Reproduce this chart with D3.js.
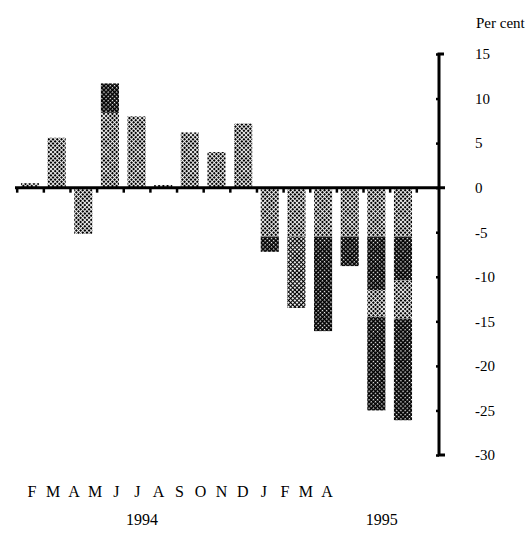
<!DOCTYPE html>
<html>
<head>
<meta charset="utf-8">
<script src="https://cdn.jsdelivr.net/npm/d3@7"></script>
<style>
  body { margin: 0; background: #fff; }
  text { font-family: "Liberation Serif", "Times New Roman", serif; fill: #000; }
</style>
</head>
<body>
<svg width="526" height="533"></svg>
<script>
  const months = ['F', 'M', 'A', 'M', 'J', 'J', 'A', 'S', 'O', 'N', 'D', 'J', 'F', 'M', 'A'];
  const years = ['1994', '1995'];
  const yearAt = [4.2, 13.2];           // month index under which each year sits
  const yTicks = [15, 10, 5, 0, -5, -10, -15, -20, -25, -30];

  // stacked pieces of each bar, in per cent (light / mid / dark shading)
  const part1 = [0.5, 5.6, -5.2, 8.4, 8.0, 0.3, 6.2, 4.0, 7.2, -5.5, -5.5, -5.5, -5.5, -5.5, -5.5];
  const part2 = [0, 0, 0, 3.3, 0, 0, 0, 0, 0, -1.7, 0, -10.6, -3.3, -6.0, -4.9];
  const partMid = [0, 0, 0, 0, 0, 0, 0, 0, 0, 0, -8.0, 0, 0, 0, 0];
  const part3 = [0, 0, 0, 0, 0, 0, 0, 0, 0, 0, 0, 0, 0, -3.0, -4.3];
  const part4 = [0, 0, 0, 0, 0, 0, 0, 0, 0, 0, 0, 0, 0, -10.5, -11.4];

  const svg = d3.select('svg');

  const rows = months.map((m, i) => ({
    i, part1: part1[i], partMid: partMid[i], part2: part2[i], part3: part3[i], part4: part4[i]
  }));
  const keys = ['part1', 'partMid', 'part2', 'part3', 'part4'];
  const shade = { part1: 'light', partMid: 'mid', part2: 'dark', part3: 'light', part4: 'dark' };

  const series = d3.stack().keys(keys).offset(d3.stackOffsetDiverging)(rows);

  const x = d3.scaleBand()
    .domain(d3.range(months.length))
    .range([16.7, 416.3])
    .paddingInner(0.32)
    .paddingOuter(0.16);

  const xEdge = d3.scaleLinear().domain([0, months.length]).range(x.range());
  const xCenter = d3.scaleLinear().domain([0, 14]).range([30, 403]);
  const xLabel = d3.scaleLinear().domain([0, 14]).range([32, 327]);

  const y = d3.scaleLinear().domain([-30, 15]).range([455, 54]);
  const axisX = 439;

  // halftone-like fills
  const defs = svg.append('defs');
  const pat = (id, bg, fg, size) => {
    const p = defs.append('pattern')
      .attr('id', id)
      .attr('patternUnits', 'userSpaceOnUse')
      .attr('width', 3).attr('height', 3)
      .attr('patternTransform', 'rotate(45)');
    p.append('rect').attr('width', 3).attr('height', 3).attr('fill', bg);
    p.append('rect').attr('width', size).attr('height', size).attr('fill', fg);
  };
  pat('light', '#fff', '#000', 2.1);
  pat('mid', '#000', '#fff', 1.9);
  pat('dark', '#000', '#fff', 1.35);

  // bars
  svg.append('g').selectAll('g')
    .data(series)
    .join('g')
      .attr('fill', s => `url(#${shade[s.key]})`)
    .selectAll('rect')
    .data(s => s)
    .join('rect')
      .attr('x', d => x(d.data.i))
      .attr('width', x.bandwidth())
      .attr('y', d => y(d[1]))
      .attr('height', d => y(d[0]) - y(d[1]));

  // zero line with month ticks
  svg.append('line')
    .attr('x1', 15).attr('x2', axisX + 6)
    .attr('y1', y(0)).attr('y2', y(0))
    .attr('stroke', '#000').attr('stroke-width', 3);

  const xAxisG = svg.append('g')
    .attr('transform', `translate(0,${y(0)})`)
    .call(d3.axisBottom(xEdge).ticks(months.length).tickSize(5).tickFormat(''));
  xAxisG.select('.domain').remove();
  xAxisG.selectAll('.tick line').attr('stroke-width', 2.5);

  // vertical axis
  const yTickG = svg.append('g')
    .attr('transform', `translate(${axisX},0)`)
    .call(d3.axisLeft(y).tickValues(yTicks).tickSize(3).tickFormat(''));
  yTickG.select('.domain').remove();
  yTickG.selectAll('.tick line').attr('stroke-width', 2.5);

  svg.append('path')
    .attr('d', `M${axisX + 5},${y(15)}H${axisX}V${y(-30)}H${axisX + 6}`)
    .attr('fill', 'none')
    .attr('stroke', '#000')
    .attr('stroke-width', 3);

  const yLabelG = svg.append('g')
    .attr('transform', `translate(${axisX},0)`)
    .call(d3.axisRight(y).tickValues(yTicks).tickSize(0).tickPadding(36).tickFormat(d => d < 0 ? '-' + Math.abs(d) : d));
  yLabelG.select('.domain').remove();
  yLabelG.selectAll('text')
    .style('font-family', '"Liberation Serif", serif')
    .style('font-size', '15px');

  svg.append('text')
    .attr('x', 476).attr('y', 28)
    .style('font-size', '15px')
    .text('Per cent');

  // month and year labels
  svg.append('g').selectAll('text')
    .data(months)
    .join('text')
      .attr('x', (d, i) => xLabel(i))
      .attr('y', 497)
      .attr('text-anchor', 'middle')
      .style('font-size', '16px')
      .text(d => d);

  svg.append('g').selectAll('text')
    .data(years)
    .join('text')
      .attr('x', (d, i) => xCenter(yearAt[i]))
      .attr('y', 525)
      .attr('text-anchor', 'middle')
      .style('font-size', '16px')
      .text(d => d);
</script>
</body>
</html>
